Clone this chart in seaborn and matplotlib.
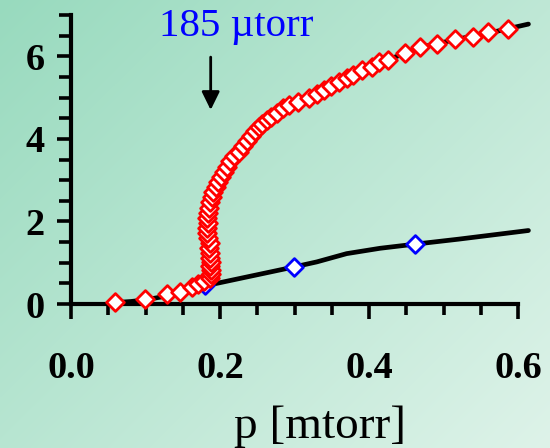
import numpy as np
import pandas as pd
import matplotlib
matplotlib.use("Agg")
import matplotlib.pyplot as plt
import seaborn as sns
from matplotlib.ticker import MultipleLocator

# Pressure sweep, upper (red) branch
red_p = [0.059, 0.099, 0.129, 0.146, 0.162, 0.170, 0.178,
         0.186, 0.188, 0.188, 0.187, 0.188, 0.187, 0.186, 0.185, 0.186, 0.184,
         0.183, 0.182, 0.184, 0.183, 0.184, 0.185, 0.187, 0.189, 0.191, 0.194,
         0.197, 0.201, 0.205, 0.209, 0.214, 0.219, 0.225, 0.231, 0.236, 0.241,
         0.247, 0.252, 0.257, 0.263, 0.268, 0.276, 0.284, 0.292, 0.305, 0.319,
         0.330, 0.339, 0.349, 0.360, 0.370, 0.379, 0.390, 0.404, 0.413, 0.425,
         0.448, 0.468, 0.491, 0.515, 0.539, 0.560, 0.587]
red_v = [0.06, 0.11, 0.24, 0.29, 0.40, 0.48, 0.56,
         0.62, 0.72, 0.82, 0.92, 1.02, 1.12, 1.24, 1.36, 1.48, 1.60,
         1.72, 1.84, 1.96, 2.08, 2.20, 2.32, 2.46, 2.60, 2.72, 2.84,
         2.96, 3.08, 3.20, 3.32, 3.46, 3.58, 3.69, 3.82, 3.95, 4.08,
         4.18, 4.28, 4.37, 4.46, 4.54, 4.62, 4.74, 4.82, 4.90, 5.00,
         5.08, 5.18, 5.28, 5.38, 5.48, 5.55, 5.66, 5.75, 5.86, 5.91,
         6.09, 6.23, 6.30, 6.41, 6.47, 6.58, 6.65]

# Lower (blue) branch
blue_p = [0.180, 0.299, 0.462]
blue_v = [0.45, 0.90, 1.45]

# Model curves
low_p = [0.055, 0.08, 0.10, 0.13, 0.155, 0.18, 0.24, 0.30, 0.33, 0.37,
         0.415, 0.462, 0.52, 0.614]
low_v = [0.03, 0.06, 0.10, 0.20, 0.32, 0.44, 0.67, 0.90, 1.02, 1.22,
         1.35, 1.45, 1.57, 1.78]
up_p = [0.180, 0.187, 0.186, 0.184, 0.184, 0.188, 0.195, 0.205, 0.220,
        0.240, 0.265, 0.295, 0.33, 0.37, 0.42, 0.47, 0.52, 0.57, 0.614]
up_v = [0.45, 0.80, 1.30, 1.80, 2.30, 2.65, 2.90, 3.20, 3.60,
        4.05, 4.45, 4.85, 5.10, 5.48, 5.88, 6.22, 6.42, 6.60, 6.78]

x_ticks = [0.0, 0.2, 0.4, 0.6]
x_labels = ["0.0", "0.2", "0.4", "0.6"]
y_ticks = [0, 2, 4, 6]
y_labels = ["0", "2", "4", "6"]

sns.set_style("ticks")
plt.rcParams["font.family"] = ["Liberation Serif", "DejaVu Serif"]

fig = plt.figure(figsize=(5.5, 4.48), dpi=100)

# soft diagonal green background
bg = fig.add_axes([0, 0, 1, 1], zorder=-10)
H, W = 224, 275
yy, xx = np.mgrid[0:H, 0:W]
t = 0.55 * xx / (W - 1) + 0.45 * yy / (H - 1)
c0 = np.array([152, 218, 190]) / 255
c1 = np.array([222, 243, 233]) / 255
img = c0[None, None, :] * (1 - t[..., None]) + c1[None, None, :] * t[..., None]
bg.imshow(img, aspect="auto", extent=[0, 1, 0, 1], interpolation="bilinear")
bg.set_axis_off()

ax = fig.add_axes([71 / 550, 144 / 448, 447 / 550, 289 / 448])
ax.patch.set_alpha(0)

low_df = pd.DataFrame({"p": low_p, "v": low_v})
up_df = pd.DataFrame({"p": up_p, "v": up_v})
blue_df = pd.DataFrame({"p": blue_p, "v": blue_v})
red_df = pd.DataFrame({"p": red_p, "v": red_v})

sns.lineplot(data=low_df, x="p", y="v", sort=False, estimator=None,
             color="black", linewidth=3.4, clip_on=False, ax=ax, zorder=2)
sns.lineplot(data=up_df, x="p", y="v", sort=False, estimator=None,
             color="black", linewidth=3.4, clip_on=False, ax=ax, zorder=2)
sns.scatterplot(data=blue_df, x="p", y="v", marker="D", s=82, color="white",
                edgecolor="blue", linewidth=2.0, ax=ax, zorder=3, clip_on=False)
sns.scatterplot(data=red_df, x="p", y="v", marker="D", s=82, color="white",
                edgecolor="red", linewidth=2.0, ax=ax, zorder=4, clip_on=False)

ax.set_xlim(0, 0.6)
ax.set_ylim(0, 7)
ax.set_xticks(x_ticks, x_labels, fontweight="bold", fontsize=27.5)
ax.set_yticks(y_ticks, y_labels, fontweight="bold", fontsize=27.5)
ax.xaxis.set_minor_locator(MultipleLocator(0.05))
ax.yaxis.set_minor_locator(MultipleLocator(0.5))
ax.tick_params(axis="both", which="both", color="black", labelcolor="black")
ax.tick_params(axis="x", which="major", length=11, width=2.6, pad=23)
ax.tick_params(axis="x", which="minor", length=8, width=2.6)
ax.tick_params(axis="y", which="major", length=10, width=2.6, pad=9)
ax.tick_params(axis="y", which="minor", length=9, width=2.6)
for side in ("top", "right"):
    ax.spines[side].set_visible(False)
for side in ("left", "bottom"):
    ax.spines[side].set_linewidth(3.0)
    ax.spines[side].set_color("black")

ax.set_ylabel("")
ax.set_xlabel("p [mtorr]", fontsize=34, fontweight="normal", color="black")
ax.xaxis.label.set_va("baseline")
ax.xaxis.set_label_coords(0.557, -0.465)

ax.text(0.2215, 6.49, "185 \u00b5torr", color="blue", fontsize=29.5,
        ha="center", va="baseline", clip_on=False)
ax.annotate("", xy=(0.1875, 4.70), xytext=(0.1875, 5.98),
            arrowprops=dict(arrowstyle="-|>,head_length=0.55,head_width=0.27",
                            color="black", lw=2.0, shrinkA=0, shrinkB=0,
                            mutation_scale=20))

fig.savefig("out.png", dpi=100)
